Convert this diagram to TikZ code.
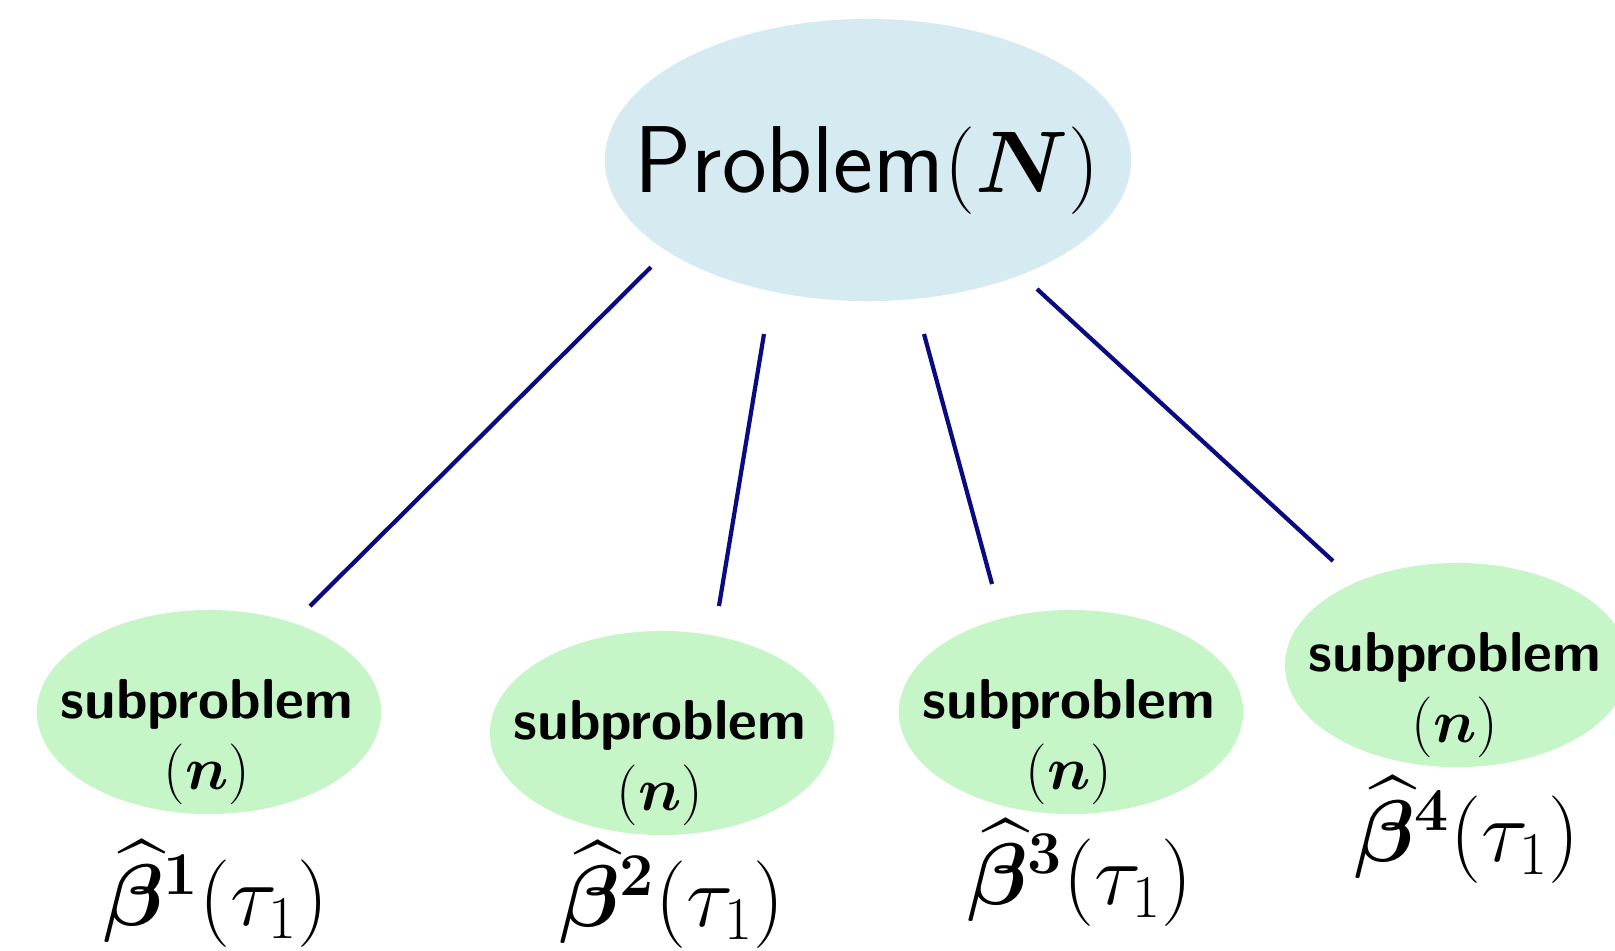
\documentclass[tikz,border=0pt]{standalone}
\usepackage{amsmath,amssymb,bm}
\usetikzlibrary{shapes.geometric}
\definecolor{probblue}{RGB}{214,234,242}
\definecolor{subgreen}{RGB}{198,245,200}
\definecolor{linknavy}{RGB}{10,10,130}
\newcommand{\subn}{{\fontsize{18.5}{20}\selectfont$(\boldsymbol{n})$}}

\begin{document}
\begin{tikzpicture}[x=0.01cm, y=-0.01cm,
    probnode/.style={ellipse, fill=probblue, minimum width=5.26cm, minimum height=2.82cm, inner sep=0pt},
    subnode/.style={ellipse, fill=subgreen, minimum width=3.44cm, minimum height=2.04cm, inner sep=0pt},
    subtext/.style={align=center, font=\fontsize{16}{20}\selectfont\sffamily\bfseries},
    estlabel/.style={font=\fontsize{24}{29}\selectfont},
    link/.style={draw=linknavy, line width=1.2pt}]
    \useasboundingbox (0,0) rectangle (1615,950);
    \clip (0,0) rectangle (1615,950);

    % root problem
    \node[probnode] (prob) at (868,160) {};
    \node[font=\fontsize{27}{32}\selectfont\sffamily] (probtext) at (867,170) {Problem$(\boldsymbol{N})$};

    % subproblems
    \node[subnode] (sub1) at (209,712) {};
    \node[subnode] (sub2) at (662,733) {};
    \node[subnode] (sub3) at (1071,712) {};
    \node[subnode] (sub4) at (1457,665) {};

    \node[subtext] (subtext1) at (207,742) {subproblem\\\subn};
    \node[subtext] (subtext2) at (660,763) {subproblem\\\subn};
    \node[subtext] (subtext3) at (1069,742) {subproblem\\\subn};
    \node[subtext] (subtext4) at (1455,695) {subproblem\\\subn};

    % estimates
    \node[estlabel] (est1) at (216,894) {$\widehat{\boldsymbol{\beta}}^{\boldsymbol{1}}(\tau_1)$};
    \node[estlabel] (est2) at (672,895) {$\widehat{\boldsymbol{\beta}}^{\boldsymbol{2}}(\tau_1)$};
    \node[estlabel] (est3) at (1080,873) {$\widehat{\boldsymbol{\beta}}^{\boldsymbol{3}}(\tau_1)$};
    \node[estlabel] (est4) at (1467,830) {$\widehat{\boldsymbol{\beta}}^{\boldsymbol{4}}(\tau_1)$};

    % connectors
    \coordinate (prob1) at (651,267);
    \coordinate (prob2) at (764,334);
    \coordinate (prob3) at (924,334);
    \coordinate (prob4) at (1037,289);
    \coordinate (top1) at (310,606);
    \coordinate (top2) at (719,606);
    \coordinate (top3) at (992,584);
    \coordinate (top4) at (1333,561);
    \draw[link] (prob1) -- (top1);
    \draw[link] (prob2) -- (top2);
    \draw[link] (prob3) -- (top3);
    \draw[link] (prob4) -- (top4);
\end{tikzpicture}
\end{document}
